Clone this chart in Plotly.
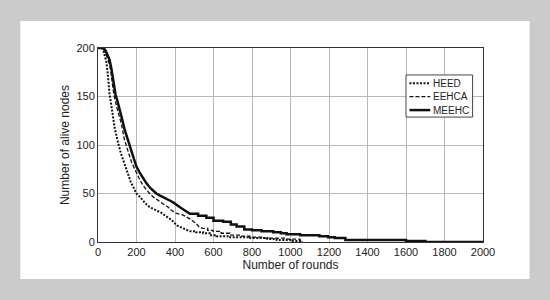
import plotly.graph_objects as go

# ---- data ----
series_names = ["HEED", "EEHCA", "MEEHC"]

heed_rounds = [0, 20, 30, 43, 50, 60, 70, 86, 100, 107, 118, 130, 140, 155, 170, 185, 199, 220, 245, 268,
               300, 330, 350, 381, 410, 440, 459, 477, 510, 510, 546, 546, 580, 580, 616, 616, 680, 680,
               780, 780, 880, 880, 928, 928, 1000, 1000, 1049, 1049]
heed_alive = [200, 200, 196, 186, 175, 152, 140, 118, 106, 100, 92, 85, 79, 71, 62, 56, 50, 46, 40, 36,
              33, 30, 27, 23, 17, 14, 12, 11, 11, 10, 10, 9, 9, 7, 7, 6, 6, 5,
              5, 4, 4, 3, 3, 2, 2, 1, 1, 0]

eehca_rounds = [0, 25, 35, 45, 55, 65, 82, 100, 120, 138, 147, 160, 175, 190, 199, 215, 235, 250, 268,
                290, 320, 340, 363, 380, 400, 440, 485, 510, 528, 546, 570, 570, 598, 598, 640, 640,
                685, 685, 740, 740, 789, 789, 850, 850, 980, 980, 1049, 1049, 1060, 1060]
eehca_alive = [200, 200, 197, 192, 186, 178, 152, 137, 123, 105, 100, 91, 82, 75, 71, 65, 58, 54, 50,
               46, 42, 39, 36, 33, 30, 28, 23, 19, 15, 14, 14, 12, 12, 11, 11, 9,
               9, 7, 7, 6, 6, 5, 5, 4, 4, 3, 3, 2, 2, 0]

meehc_rounds = [0, 30, 40, 50, 60, 70, 80, 91, 100, 112, 125, 138, 150, 164, 173, 185, 199, 215, 233,
                250, 270, 303, 320, 350, 390, 424, 450, 477, 520, 520, 563, 563, 600, 600, 650, 650,
                690, 690, 720, 720, 760, 760, 800, 800, 850, 850, 910, 910, 950, 950, 980, 980,
                1050, 1050, 1150, 1150, 1195, 1195, 1230, 1230, 1285, 1285, 1600, 1600, 1700, 1700, 2000]
meehc_alive = [200, 200, 197, 192, 188, 178, 166, 152, 146, 138, 127, 116, 108, 100, 95, 86, 78, 72, 66,
               61, 56, 50, 48, 45, 41, 36, 33, 29, 29, 27, 27, 25, 25, 22, 22, 21,
               21, 18, 18, 16, 16, 13, 13, 12, 12, 11, 11, 10, 10, 9, 9, 8,
               8, 7, 7, 6, 6, 5, 5, 4, 4, 2, 2, 1, 1, 0, 0]

x_ticks = [0, 200, 400, 600, 800, 1000, 1200, 1400, 1600, 1800, 2000]
y_ticks = [0, 50, 100, 150, 200]

FONT = "Liberation Sans, Arial, sans-serif"
INK = "#111111"
styles = [dict(color=INK, width=2, dash="2px,1.5px"),
          dict(color=INK, width=1.3, dash="4px,2px"),
          dict(color=INK, width=2.5)]

fig = go.Figure()
for name, xs, ys, st in zip(series_names,
                            [heed_rounds, eehca_rounds, meehc_rounds],
                            [heed_alive, eehca_alive, meehc_alive], styles):
    fig.add_trace(go.Scatter(x=xs, y=ys, name=name, mode="lines", line=st, showlegend=False))

# manual compact legend (paper coordinates)
shapes = [dict(type="rect", xref="paper", yref="paper",
               x0=-0.2018, x1=1.121, y0=-0.1907, y1=1.139,
               fillcolor="white", line=dict(width=0), layer="below"),
          dict(type="rect", xref="paper", yref="paper",
               x0=0.800, x1=0.973, y0=0.644, y1=0.861,
               fillcolor="white", line=dict(color="#444444", width=1), layer="above")]
annotations = []
row_y = [0.818, 0.749, 0.680]
for name, st, yy in zip(series_names, styles, row_y):
    shapes.append(dict(type="line", xref="paper", yref="paper", x0=0.809, x1=0.863, y0=yy, y1=yy,
                       line=dict(color=st["color"], width=st["width"], dash=st.get("dash", "solid")),
                       layer="above"))
    annotations.append(dict(xref="paper", yref="paper", x=0.866, y=yy, xanchor="left", yanchor="middle",
                            text=name, showarrow=False, font=dict(size=10, color="#222222")))

fig.update_layout(
    width=550, height=300,
    margin=dict(l=98, r=67, t=48, b=58),
    paper_bgcolor="#cbcbcb",
    plot_bgcolor="white",
    font=dict(family=FONT, size=11, color="#222222"),
    showlegend=False,
    shapes=shapes,
    annotations=annotations,
)
fig.update_xaxes(range=[0, 2000], tickvals=x_ticks, showgrid=True, gridcolor="#b8b8b8", gridwidth=1,
                 zeroline=False, showline=True, linecolor="#333333", linewidth=1, mirror=True,
                 ticks="", title=dict(text="Number of rounds", standoff=3, font=dict(size=12)),
                 tickfont=dict(size=11))
fig.update_yaxes(range=[0, 200], tickvals=y_ticks, showgrid=True, gridcolor="#b8b8b8", gridwidth=1,
                 zeroline=False, showline=True, linecolor="#333333", linewidth=1, mirror=True,
                 ticks="", title=dict(text="Number of alive nodes", standoff=4, font=dict(size=12)),
                 tickfont=dict(size=11))

fig.write_html("out.html")
